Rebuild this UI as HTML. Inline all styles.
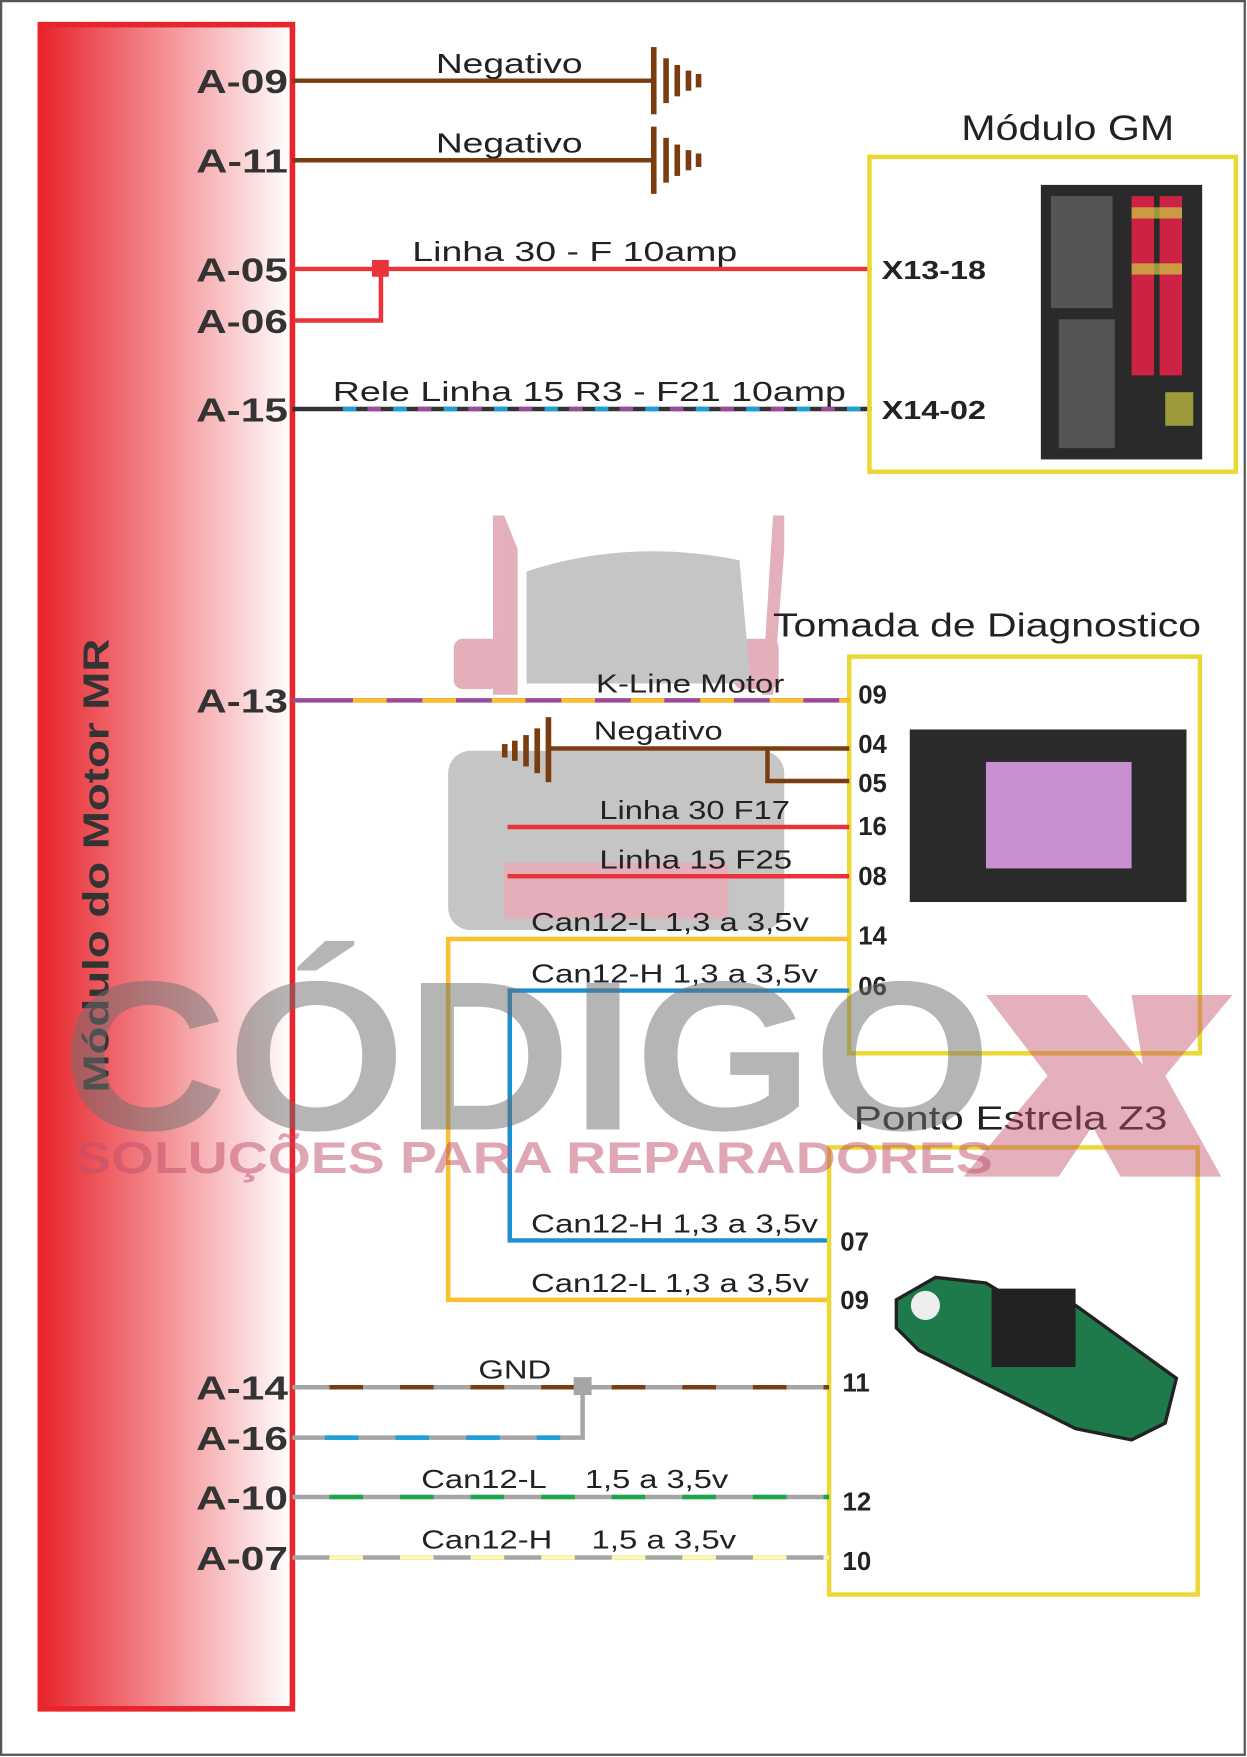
<!DOCTYPE html>
<html><head><meta charset="utf-8"><style>html,body{margin:0;padding:0;background:#fff}svg{display:block}</style></head>
<body>
<svg width="1247" height="1757" viewBox="0 0 1113 1568" preserveAspectRatio="none" xmlns="http://www.w3.org/2000/svg" font-family="Liberation Sans, sans-serif">
<defs>
<linearGradient id="g" x1="0" x2="1" y1="0" y2="0"><stop offset="0" stop-color="#e8242c"/><stop offset="1" stop-color="#ffffff"/></linearGradient>
</defs>
<rect x="1" y="1" width="1110" height="1565" fill="#fff" stroke="#555" stroke-width="2"/>
<rect x="36" y="22" width="225" height="1503" fill="url(#g)" stroke="#e8242c" stroke-width="5"/>
<text transform="translate(97,975) rotate(-90)" font-size="32" font-weight="bold" fill="#333" textLength="405" lengthAdjust="spacingAndGlyphs">Módulo do Motor MR</text>
<!-- truck watermark -->
<g opacity="0.45">
<path d="M440 460 L450 460 L462 490 L462 620 L440 620 Z M690 460 L700 460 L700 490 L690 620 L680 620 Z" fill="#c0506a"/>
<rect x="405" y="570" width="40" height="45" rx="8" fill="#c0506a"/>
<rect x="655" y="570" width="40" height="45" rx="8" fill="#c0506a"/>
<path d="M470 510 Q560 480 660 500 L670 610 L470 610 Z" fill="#808080"/>
<rect x="400" y="670" width="300" height="160" rx="20" fill="#808080"/>
<rect x="450" y="770" width="200" height="50" fill="#c0506a"/>
</g>
<!-- top wires -->
<g stroke="#7a3d0f" stroke-width="4" fill="none">
<line x1="261" y1="72" x2="583" y2="72"/><line x1="261" y1="143" x2="583" y2="143"/>
</g>
<g fill="#7a3d0f">
<rect x="581" y="42" width="5" height="60"/><rect x="592" y="52" width="5" height="40"/><rect x="602" y="58" width="5" height="28"/><rect x="612" y="63" width="5" height="18"/><rect x="621" y="66" width="5" height="12"/>
<rect x="581" y="113" width="5" height="60"/><rect x="592" y="123" width="5" height="40"/><rect x="602" y="129" width="5" height="28"/><rect x="612" y="134" width="5" height="18"/><rect x="621" y="137" width="5" height="12"/>
</g>
<g font-size="25" fill="#222" lengthAdjust="spacingAndGlyphs">
<text x="389" y="65" textLength="131" lengthAdjust="spacingAndGlyphs">Negativo</text><text x="389" y="136" textLength="131" lengthAdjust="spacingAndGlyphs">Negativo</text>
<text x="368" y="233" textLength="290" lengthAdjust="spacingAndGlyphs">Linha 30 - F 10amp</text>
<text x="297" y="358" textLength="458" lengthAdjust="spacingAndGlyphs">Rele Linha 15 R3 - F21 10amp</text>
</g>
<g stroke="#e8343a" stroke-width="4" fill="none">
<line x1="261" y1="240" x2="778" y2="240"/><polyline points="261,286 340,286 340,240"/>
</g>
<rect x="332" y="232" width="15" height="15" fill="#e8343a"/>
<line x1="261" y1="365" x2="778" y2="365" stroke="#333" stroke-width="4"/>
<line x1="306" y1="365" x2="778" y2="365" stroke="#1ba0dc" stroke-width="4" stroke-dasharray="12 33"/>
<line x1="328" y1="365" x2="778" y2="365" stroke="#9b4b9b" stroke-width="4" stroke-dasharray="12 33"/>
<!-- GM -->
<text x="858" y="125" font-size="31" fill="#222" textLength="190" lengthAdjust="spacingAndGlyphs">Módulo GM</text>
<rect x="776" y="140" width="327" height="281" fill="none" stroke="#ecd835" stroke-width="4"/>
<rect x="929" y="165" width="144" height="245" fill="#2a2a2a"/>
<g fill="#555"><rect x="938" y="175" width="55" height="100"/><rect x="945" y="285" width="50" height="115"/></g>
<g fill="#c24"><rect x="1010" y="175" width="20" height="160"/><rect x="1035" y="175" width="20" height="160"/></g>
<g fill="#cc4" opacity="0.7"><rect x="1010" y="185" width="45" height="10"/><rect x="1010" y="235" width="45" height="10"/><rect x="1040" y="350" width="25" height="30"/></g>
<g font-size="23" font-weight="bold" fill="#222"><text x="787" y="249" textLength="93" lengthAdjust="spacingAndGlyphs">X13-18</text><text x="787" y="374" textLength="93" lengthAdjust="spacingAndGlyphs">X14-02</text></g>
<!-- Diag -->
<text x="690" y="568" font-size="30" fill="#222" textLength="382" lengthAdjust="spacingAndGlyphs">Tomada de Diagnostico</text>
<rect x="758" y="586" width="313" height="354" fill="none" stroke="#ecd835" stroke-width="4"/>
<rect x="812" y="651" width="247" height="154" fill="#2a2a2a"/>
<rect x="880" y="680" width="130" height="95" fill="#c98fd0"/>
<line x1="261" y1="625" x2="758" y2="625" stroke="#9b4b9b" stroke-width="4"/>
<line x1="315" y1="625" x2="758" y2="625" stroke="#fbc02d" stroke-width="4" stroke-dasharray="30 32"/>
<g stroke="#7a3d0f" stroke-width="4" fill="none"><line x1="490" y1="668" x2="758" y2="668"/><polyline points="685,668 685,697 758,697"/></g>
<g fill="#7a3d0f"><rect x="487" y="640" width="5" height="58"/><rect x="477" y="650" width="5" height="40"/><rect x="467" y="656" width="5" height="28"/><rect x="457" y="661" width="5" height="18"/><rect x="448" y="664" width="5" height="12"/></g>
<g stroke="#e8343a" stroke-width="4"><line x1="453" y1="738" x2="758" y2="738"/><line x1="453" y1="782" x2="758" y2="782"/></g>
<g stroke="#fbc02d" stroke-width="4" fill="none"><polyline points="758,838 400,838 400,1160 740,1160"/></g>
<g stroke="#1b8fcf" stroke-width="4" fill="none"><polyline points="758,884 455,884 455,1107 740,1107"/></g>
<g font-size="23" fill="#222">
<text x="532" y="618" textLength="168" lengthAdjust="spacingAndGlyphs">K-Line Motor</text><text x="530" y="660" textLength="115" lengthAdjust="spacingAndGlyphs">Negativo</text>
<text x="535" y="731" textLength="170" lengthAdjust="spacingAndGlyphs">Linha 30 F17</text><text x="535" y="775" textLength="172" lengthAdjust="spacingAndGlyphs">Linha 15 F25</text>
<text x="474" y="831" textLength="248" lengthAdjust="spacingAndGlyphs">Can12-L 1,3 a 3,5v</text><text x="474" y="877" textLength="256" lengthAdjust="spacingAndGlyphs">Can12-H 1,3 a 3,5v</text>
<text x="474" y="1100" textLength="256" lengthAdjust="spacingAndGlyphs">Can12-H 1,3 a 3,5v</text><text x="474" y="1153" textLength="248" lengthAdjust="spacingAndGlyphs">Can12-L 1,3 a 3,5v</text>
<text x="427" y="1230" textLength="65" lengthAdjust="spacingAndGlyphs">GND</text>
<text x="376" y="1328" textLength="112" lengthAdjust="spacingAndGlyphs">Can12-L</text><text x="522" y="1328" textLength="128" lengthAdjust="spacingAndGlyphs">1,5 a 3,5v</text>
<text x="376" y="1382" textLength="117" lengthAdjust="spacingAndGlyphs">Can12-H</text><text x="528" y="1382" textLength="129" lengthAdjust="spacingAndGlyphs">1,5 a 3,5v</text>
</g>
<g font-size="23" font-weight="bold" fill="#222">
<text x="766" y="628">09</text><text x="766" y="672">04</text><text x="766" y="707">05</text><text x="766" y="745">16</text><text x="766" y="790">08</text><text x="766" y="843">14</text><text x="766" y="888">06</text>
<text x="750" y="1116">07</text><text x="750" y="1168">09</text><text x="752" y="1242">11</text><text x="752" y="1348">12</text><text x="752" y="1401">10</text>
</g>
<!-- Ponto -->
<text x="762" y="1008" font-size="30" fill="#222" textLength="280" lengthAdjust="spacingAndGlyphs">Ponto Estrela Z3</text>
<rect x="740" y="1024" width="329" height="399" fill="none" stroke="#ecd835" stroke-width="4"/>
<path d="M800 1160 L835 1140 L880 1145 L905 1160 L960 1165 L1050 1230 L1040 1270 L1010 1285 L960 1275 L820 1205 L800 1185 Z" fill="#1e7a4a" stroke="#222" stroke-width="3"/>
<rect x="885" y="1150" width="75" height="70" fill="#222"/>
<circle cx="826" cy="1165" r="13" fill="#eee"/>
<!-- bottom wires -->
<line x1="261" y1="1238" x2="740" y2="1238" stroke="#a5a5a5" stroke-width="4"/>
<line x1="294" y1="1238" x2="740" y2="1238" stroke="#7a3d0f" stroke-width="4" stroke-dasharray="30 33"/>
<polyline points="261,1283 520,1283 520,1238" stroke="#a5a5a5" stroke-width="4" fill="none"/>
<line x1="290" y1="1283" x2="500" y2="1283" stroke="#1ba0dc" stroke-width="4" stroke-dasharray="30 33"/>
<rect x="512" y="1229" width="16" height="16" fill="#a5a5a5"/>
<line x1="261" y1="1336" x2="740" y2="1336" stroke="#a5a5a5" stroke-width="4"/>
<line x1="294" y1="1336" x2="740" y2="1336" stroke="#1aa64a" stroke-width="4" stroke-dasharray="30 33"/>
<line x1="261" y1="1390" x2="740" y2="1390" stroke="#a5a5a5" stroke-width="4"/>
<line x1="294" y1="1390" x2="740" y2="1390" stroke="#fff6b0" stroke-width="4" stroke-dasharray="30 33"/>
<!-- labels A -->
<g font-size="30" font-weight="bold" fill="#333">
<text x="175" y="83" textLength="82" lengthAdjust="spacingAndGlyphs">A-09</text><text x="175" y="154" textLength="82" lengthAdjust="spacingAndGlyphs">A-11</text><text x="175" y="251" textLength="82" lengthAdjust="spacingAndGlyphs">A-05</text><text x="175" y="297" textLength="82" lengthAdjust="spacingAndGlyphs">A-06</text><text x="175" y="376" textLength="82" lengthAdjust="spacingAndGlyphs">A-15</text>
<text x="175" y="636" textLength="82" lengthAdjust="spacingAndGlyphs">A-13</text><text x="175" y="1249" textLength="82" lengthAdjust="spacingAndGlyphs">A-14</text><text x="175" y="1294" textLength="82" lengthAdjust="spacingAndGlyphs">A-16</text><text x="175" y="1347" textLength="82" lengthAdjust="spacingAndGlyphs">A-10</text><text x="175" y="1401" textLength="82" lengthAdjust="spacingAndGlyphs">A-07</text>
</g>
<!-- watermark text -->
<text x="55" y="1008" font-size="190" font-weight="bold" fill="#6e6e6e" opacity="0.5" textLength="830" lengthAdjust="spacingAndGlyphs">CÓDIGO</text>
<path d="M880 888 L970 888 L1020 950 L1010 888 L1100 888 L1040 960 L1090 1050 L1000 1050 L975 1005 L945 1050 L860 1050 L935 960 Z" fill="#c0506a" opacity="0.45"/>
<text x="66" y="1047" font-size="40" font-weight="bold" fill="#c0506a" opacity="0.5" textLength="820" lengthAdjust="spacingAndGlyphs">SOLUÇÕES PARA REPARADORES</text>
</svg>
</body></html>
